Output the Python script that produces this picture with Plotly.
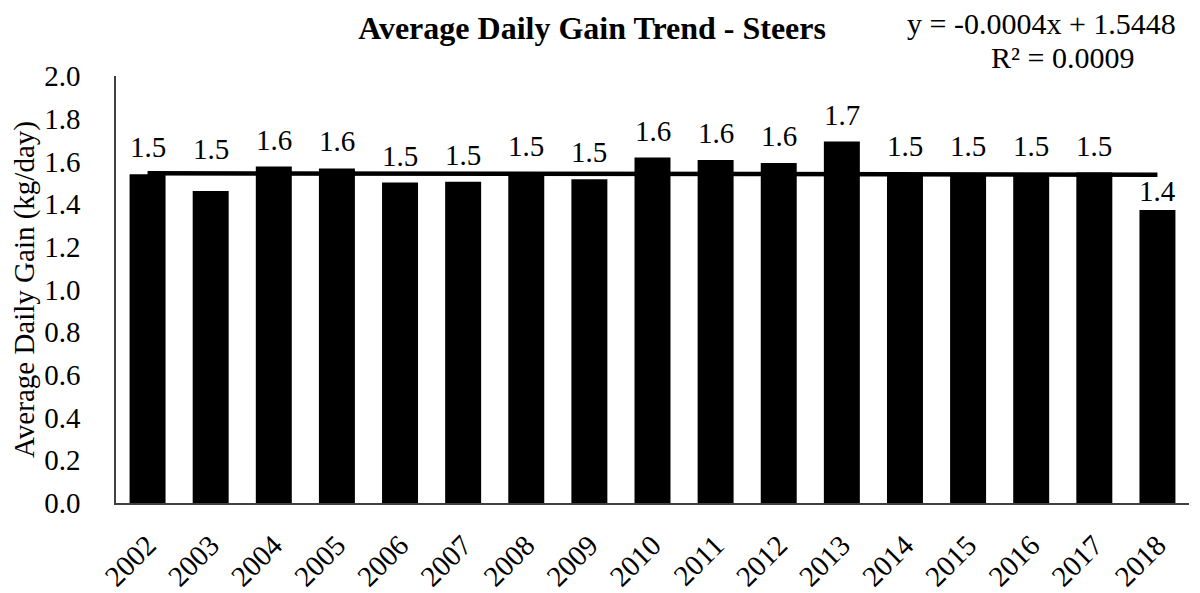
import plotly.graph_objects as go

years = [str(y) for y in range(2002, 2019)]
adg = [1.540, 1.461, 1.576, 1.567, 1.501, 1.505, 1.548, 1.516, 1.618,
       1.606, 1.593, 1.693, 1.545, 1.545, 1.545, 1.548, 1.372]

# Excel linear trendline reported on the chart
slope = -0.0004
intercept = 1.5448
r_squared = 0.0009

FONT = 'Liberation Serif, Times New Roman, serif'

trend = [slope * (i + 1) + intercept for i in range(len(years))]

fig = go.Figure()
fig.add_trace(go.Bar(
    x=years,
    y=adg,
    marker_color='black',
    marker_line_width=0,
    name='ADG'
))
fig.add_trace(go.Scatter(
    x=years,
    y=trend,
    mode='lines',
    line=dict(color='black', width=4.5),
    name='Linear trend'
))

# data labels, a couple were nudged by hand in the original
# (annotation x on a category axis = category index)
label_shift = {'2003': 42, '2018': 19}
for i, (yr, v) in enumerate(zip(years, adg)):
    fig.add_annotation(
        x=i, y=v, text=f'{v:.1f}', showarrow=False,
        yanchor='middle', yshift=label_shift.get(yr, 27),
        font=dict(family=FONT, size=29, color='black')
    )

fig.add_annotation(
    xref='paper', yref='paper', x=0.99, y=1.0, yshift=53,
    xanchor='right', yanchor='middle', showarrow=False,
    text=f'y = {slope:.4f}x + {intercept:.4f}',
    font=dict(family=FONT, size=30, color='black')
)
fig.add_annotation(
    xref='paper', yref='paper', x=0.882, y=1.0, yshift=19,
    xanchor='center', yanchor='middle', showarrow=False,
    text=f'R² = {r_squared:.4f}',
    font=dict(family=FONT, size=30, color='black')
)

# page body has an 8px margin, so the figure is a bit smaller than the window
fig.update_layout(
    title=dict(text='<b>Average Daily Gain Trend - Steers</b>', x=0.49, xanchor='center',
               y=0.966, yanchor='middle',
               font=dict(family=FONT, size=32, color='black')),
    width=1192, height=585,
    margin=dict(l=108, r=11, t=68, b=90),
    paper_bgcolor='white',
    plot_bgcolor='white',
    showlegend=False,
    bargap=0.43,
    font=dict(family=FONT, size=29, color='black'),
    xaxis=dict(
        type='category', automargin=False,
        tickangle=-45,
        showline=True, linecolor='#404040', linewidth=1.5,
        showgrid=False, ticks='', ticklabelstandoff=12,
        tickfont=dict(family=FONT, size=29, color='black')
    ),
    yaxis=dict(
        automargin=False,
        title=dict(text='Average Daily Gain (kg/day)', standoff=8,
                   font=dict(family=FONT, size=29, color='black')),
        range=[0, 2.0], dtick=0.2, tickformat='.1f',
        showline=True, linecolor='#404040', linewidth=1.5,
        showgrid=False, ticks='', ticklabelstandoff=28,
        tickfont=dict(family=FONT, size=29, color='black')
    )
)

fig.write_html('out.html')
